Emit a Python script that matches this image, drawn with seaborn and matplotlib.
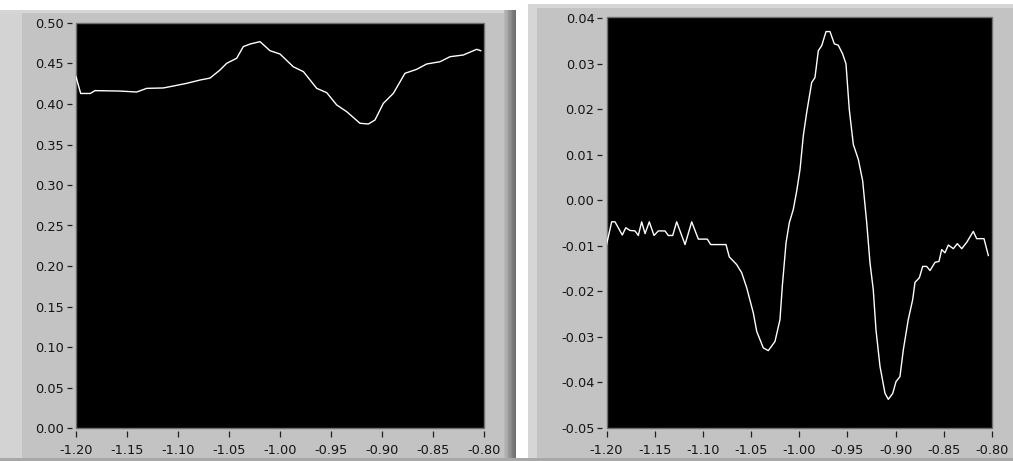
import numpy as np
import pandas as pd
import seaborn as sns
import matplotlib.pyplot as plt
from matplotlib.patches import Rectangle
from matplotlib.ticker import FormatStrFormatter

plt.rcParams['axes.unicode_minus'] = False
plt.rcParams['font.family'] = ['DejaVu Sans']

# left graph
left_x = [-1.2000, -1.1954, -1.1860, -1.1814, -1.1570, -1.1405, -1.1307, -1.1144,
          -1.1046, -1.0915, -1.0784, -1.0686, -1.0588, -1.0523, -1.0425, -1.0360,
          -1.0294, -1.0196, -1.0098, -1.0000, -0.9870, -0.9770, -0.9640, -0.9542,
          -0.9444, -0.9346, -0.9216, -0.9134, -0.9069, -0.8987, -0.8889, -0.8775,
          -0.8660, -0.8562, -0.8431, -0.8333, -0.8203, -0.8072, -0.8032]
left_y = [0.4337, 0.4130, 0.4130, 0.4165, 0.4160, 0.4148, 0.4193, 0.4198,
          0.4222, 0.4255, 0.4296, 0.4320, 0.4420, 0.4502, 0.4564, 0.4708,
          0.4740, 0.4770, 0.4658, 0.4617, 0.4460, 0.4399, 0.4193, 0.4140,
          0.3988, 0.3905, 0.3762, 0.3753, 0.3802, 0.4008, 0.4131, 0.4379,
          0.4428, 0.4494, 0.4522, 0.4584, 0.4605, 0.4675, 0.4658]

# right graph
right_x = [-1.2000, -1.1946, -1.1912, -1.1836, -1.1800, -1.1756, -1.1704, -1.1670,
           -1.1635, -1.1600, -1.1556, -1.1507, -1.1462, -1.1393, -1.1359, -1.1313,
           -1.1272, -1.1185, -1.1116, -1.1047, -1.0954, -1.0919, -1.0760, -1.0726,
           -1.0649, -1.0597, -1.0545, -1.0477, -1.0441, -1.0373, -1.0321, -1.0252,
           -1.0200, -1.0176, -1.0137, -1.0103, -1.0062, -1.0026, -0.9992, -0.9958,
           -0.9923, -0.9871, -0.9837, -0.9802, -0.9767, -0.9722, -0.9681, -0.9636,
           -0.9595, -0.9550, -0.9515, -0.9481, -0.9439, -0.9387, -0.9342, -0.9300,
           -0.9266, -0.9232, -0.9204, -0.9162, -0.9110, -0.9076, -0.9030, -0.8996,
           -0.8955, -0.8920, -0.8869, -0.8823, -0.8799, -0.8754, -0.8719, -0.8678,
           -0.8643, -0.8591, -0.8550, -0.8522, -0.8488, -0.8453, -0.8401, -0.8360,
           -0.8314, -0.8262, -0.8194, -0.8159, -0.8083, -0.8038]
right_y = [-0.0097, -0.0047, -0.0047, -0.0076, -0.0060, -0.0066, -0.0067, -0.0077,
           -0.0047, -0.0073, -0.0047, -0.0077, -0.0067, -0.0067, -0.0077, -0.0077,
           -0.0047, -0.0097, -0.0047, -0.0085, -0.0085, -0.0097, -0.0097, -0.0124,
           -0.0141, -0.0159, -0.0192, -0.0247, -0.0288, -0.0324, -0.0330, -0.0310,
           -0.0262, -0.0189, -0.0093, -0.0049, -0.0020, 0.0021, 0.0068, 0.0142,
           0.0193, 0.0259, 0.0270, 0.0329, 0.0340, 0.0371, 0.0371, 0.0344,
           0.0341, 0.0322, 0.0300, 0.0200, 0.0123, 0.0090, 0.0043, -0.0049,
           -0.0137, -0.0196, -0.0284, -0.0365, -0.0424, -0.0437, -0.0424, -0.0398,
           -0.0387, -0.0328, -0.0262, -0.0218, -0.0180, -0.0170, -0.0145, -0.0145,
           -0.0154, -0.0136, -0.0134, -0.0108, -0.0115, -0.0098, -0.0106, -0.0095,
           -0.0106, -0.0092, -0.0068, -0.0084, -0.0084, -0.0121]

x_ticks = [-1.20, -1.15, -1.10, -1.05, -1.00, -0.95, -0.90, -0.85, -0.80]
left_yticks = [0.00, 0.05, 0.10, 0.15, 0.20, 0.25, 0.30, 0.35, 0.40, 0.45, 0.50]
right_yticks = [-0.05, -0.04, -0.03, -0.02, -0.01, 0.00, 0.01, 0.02, 0.03, 0.04]

W, H = 1013, 461
fig = plt.figure(figsize=(W / 100, H / 100), dpi=100, facecolor='white')


def box(x0, y0, x1, y1):
    return [x0 / W, 1 - y1 / H, (x1 - x0) / W, (y1 - y0) / H]


def panel(x0, y0, x1, y1, color):
    b = box(x0, y0, x1, y1)
    fig.add_artist(Rectangle((b[0], b[1]), b[2], b[3], transform=fig.transFigure,
                             facecolor=color, edgecolor='none', zorder=-5))


# grey front-panel backgrounds
panel(0, 10, 516, 461, '#c3c3c3')
panel(0, 10, 22, 461, '#d3d3d3')
panel(0, 10, 516, 13, '#d6d6d6')
for i, c in enumerate(['#b8b8b8', '#b0b0b0', '#a6a6a6', '#9c9c9c', '#929292',
                       '#888888', '#7e7e7e', '#767676', '#6e6e6e']):
    panel(504 + i * 1.35, 10, 516, 461, c)
panel(528, 4, 1013, 461, '#c3c3c3')
panel(528, 4, 537, 461, '#d6d6d6')
panel(528, 4, 1013, 8, '#d6d6d6')
panel(0, 458, 1013, 461, '#a8a8a8')

ax1 = fig.add_axes(box(76, 23, 484, 428))
ax2 = fig.add_axes(box(606.5, 17, 992, 428))

df1 = pd.DataFrame({'x': left_x, 'y': left_y})
df2 = pd.DataFrame({'x': right_x, 'y': right_y})
sns.lineplot(data=df1, x='x', y='y', ax=ax1, color='white', lw=1.0, estimator=None)
sns.lineplot(data=df2, x='x', y='y', ax=ax2, color='white', lw=1.0, estimator=None)

for ax, yt, ylim in [(ax1, left_yticks, (0, 0.5)), (ax2, right_yticks, (-0.05, 0.0403))]:
    ax.set_facecolor('black')
    ax.patch.set_edgecolor('#707070')
    ax.patch.set_linewidth(1.0)
    for s in ax.spines.values():
        s.set_visible(False)
    ax.spines['bottom'].set_position(('outward', 2.2))
    ax.spines['left'].set_position(('outward', 2.9))
    ax.set_xlim(-1.2, -0.8)
    ax.set_ylim(*ylim)
    ax.set_xticks(x_ticks)
    ax.set_yticks(yt)
    ax.xaxis.set_major_formatter(FormatStrFormatter('%.2f'))
    ax.yaxis.set_major_formatter(FormatStrFormatter('%.2f'))
    ax.tick_params(axis='x', direction='out', length=4.3, width=0.9, color='#202020',
                   labelsize=9.3, labelcolor='#151515', pad=5.0)
    ax.tick_params(axis='y', direction='out', length=3.6, width=0.9, color='#202020',
                   labelsize=9.3, labelcolor='#151515', pad=2.2)
    ax.set_xlabel('')
    ax.set_ylabel('')

fig.savefig('out.png', dpi=100, facecolor='white')
